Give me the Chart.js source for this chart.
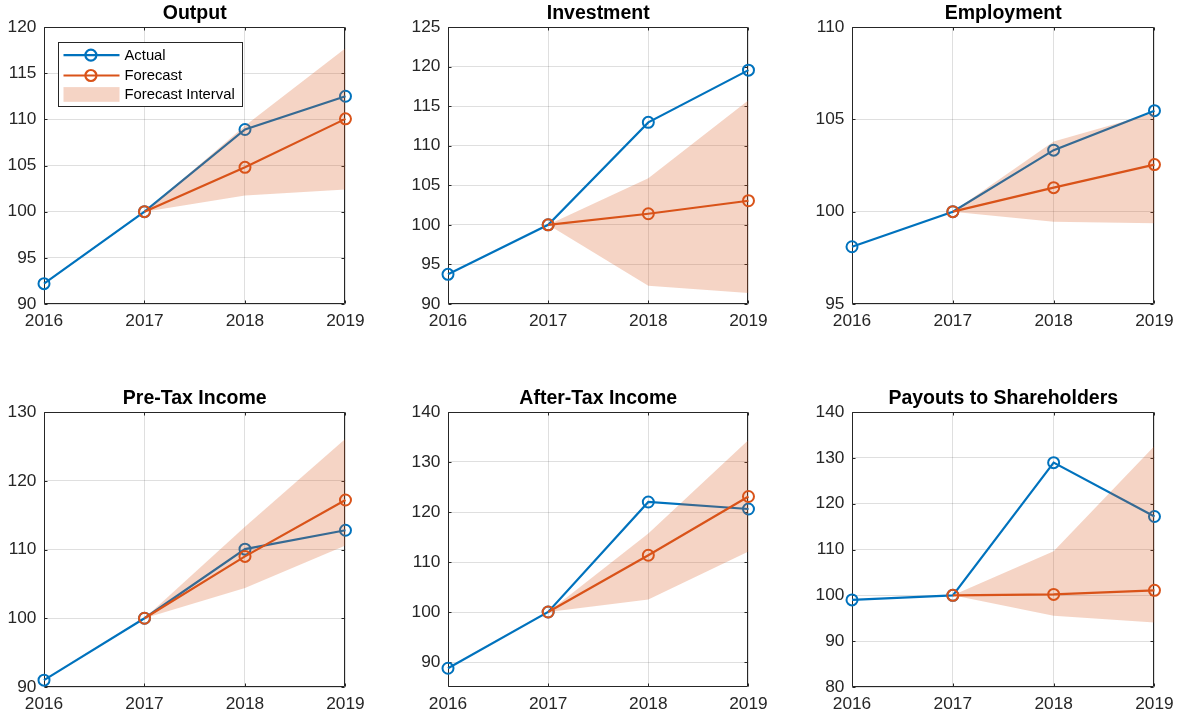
<!DOCTYPE html>
<html>
<head>
<meta charset="utf-8">
<script src="https://cdn.jsdelivr.net/npm/chart.js@4"></script>
<style>
  body { margin: 0; background: #fff; }
  #fig { position: relative; width: 1180px; height: 719px; }
  #fig canvas { position: absolute; }
</style>
</head>
<body>
<div id="fig"></div>
<script>
const years = ['2016', '2017', '2018', '2019'];

const outputActual   = [92.2, 100, 108.9, 112.5];
const outputForecast = [null, 100, 104.8, 110.05];
const outputLow      = [null, 100, 101.75, 102.4];
const outputHigh     = [null, 100, 109.3, 117.7];
const outputTicks    = [90, 95, 100, 105, 110, 115, 120];

const investActual   = [93.75, 100, 112.95, 119.55];
const investForecast = [null, 100, 101.4, 103.05];
const investLow      = [null, 100, 92.3, 91.4];
const investHigh     = [null, 100, 105.9, 115.75];
const investTicks    = [90, 95, 100, 105, 110, 115, 120, 125];

const employActual   = [98.1, 100, 103.33, 105.47];
const employForecast = [null, 100, 101.3, 102.55];
const employLow      = [null, 100, 99.45, 99.37];
const employHigh     = [null, 100, 103.8, 105.35];
const employTicks    = [95, 100, 105, 110];

const preTaxActual   = [91.0, 100, 110.05, 112.8];
const preTaxForecast = [null, 100, 109.0, 117.2];
const preTaxLow      = [null, 100, 104.4, 110.6];
const preTaxHigh     = [null, 100, 113.3, 126.1];
const preTaxTicks    = [90, 100, 110, 120, 130];

const afterTaxActual   = [88.75, 100, 122.0, 120.6];
const afterTaxForecast = [null, 100, 111.35, 123.1];
const afterTaxLow      = [null, 100, 102.5, 112.1];
const afterTaxHigh     = [null, 100, 115.7, 134.4];
const afterTaxTicks    = [90, 100, 110, 120, 130, 140];

const payoutActual   = [99.0, 100, 128.95, 117.2];
const payoutForecast = [null, 100, 100.2, 101.1];
const payoutLow      = [null, 100, 95.55, 94.1];
const payoutHigh     = [null, 100, 109.6, 132.6];
const payoutTicks    = [80, 90, 100, 110, 120, 130, 140];

const panels = [
  { title: 'Output', actual: outputActual, forecast: outputForecast, low: outputLow, high: outputHigh, ticks: outputTicks, min: 90, max: 120, legend: true },
  { title: 'Investment', actual: investActual, forecast: investForecast, low: investLow, high: investHigh, ticks: investTicks, min: 90, max: 125 },
  { title: 'Employment', actual: employActual, forecast: employForecast, low: employLow, high: employHigh, ticks: employTicks, min: 95, max: 110 },
  { title: 'Pre-Tax Income', actual: preTaxActual, forecast: preTaxForecast, low: preTaxLow, high: preTaxHigh, ticks: preTaxTicks, min: 90, max: 130 },
  { title: 'After-Tax Income', actual: afterTaxActual, forecast: afterTaxForecast, low: afterTaxLow, high: afterTaxHigh, ticks: afterTaxTicks, min: 85, max: 140 },
  { title: 'Payouts to Shareholders', actual: payoutActual, forecast: payoutForecast, low: payoutLow, high: payoutHigh, ticks: payoutTicks, min: 80, max: 140 }
];

// plot-area boxes: left, top, right, bottom
const boxes = [
  [44.3, 26.7, 347.3, 304], [448.3, 26.7, 750.7, 304], [851.7, 26.7, 1155.7, 304],
  [44.3, 412, 347.3, 687.3], [448.3, 412, 750.7, 687.3], [851.7, 412, 1155.7, 687.3]
];

const BLUE = '#0072BD';
const ORANGE = '#D95319';
const BAND = 'rgba(217, 83, 25, 0.25)';
const AXIS = '#262626';
const FONT = '"Liberation Sans", Arial, Helvetica, sans-serif';

const Y_AXIS_W = 44, X_AXIS_H = 30, TITLE_H = 26, PAD_R = 25;

// frame around the plot area plus small inward tick marks on all sides
const axesBox = {
  id: 'axesBox',
  beforeDatasetsDraw(chart) {
    const { ctx, chartArea: a, scales: { x, y } } = chart;
    const l = Math.round(a.left) + 0.5, r = Math.round(a.right) - 0.5;
    const t = Math.round(a.top) + 0.5, b = Math.round(a.bottom) - 0.5;
    ctx.save();
    ctx.strokeStyle = AXIS;
    ctx.lineWidth = 1;
    ctx.beginPath();
    x.ticks.forEach((tk, i) => {
      const px = Math.round(x.getPixelForTick(i)) + 0.5;
      ctx.moveTo(px, b); ctx.lineTo(px, b - 3);
      ctx.moveTo(px, t); ctx.lineTo(px, t + 3);
    });
    y.ticks.forEach(tk => {
      const py = Math.round(y.getPixelForValue(tk.value)) + 0.5;
      ctx.moveTo(l, py); ctx.lineTo(l + 3, py);
      ctx.moveTo(r, py); ctx.lineTo(r - 3, py);
    });
    ctx.rect(l, t, r - l, b - t);
    ctx.stroke();
    ctx.restore();
  }
};

// boxed legend in the top-left corner of the plot
const boxLegend = {
  id: 'boxLegend',
  afterDraw(chart, args, opts) {
    if (!opts.show) return;
    const { ctx, chartArea: a } = chart;
    const ds = chart.data.datasets;
    const x0 = Math.round(a.left + 14) + 0.5, y0 = Math.round(a.top + 15) + 0.5;
    const w = 184, h = 64;
    ctx.save();
    ctx.fillStyle = '#fff';
    ctx.fillRect(x0, y0, w, h);
    ctx.strokeStyle = AXIS;
    ctx.lineWidth = 1;
    ctx.strokeRect(x0, y0, w, h);

    const rows = [ds[0], ds[1], ds[3]];
    const rowY = [12.6, 33, 52];
    ctx.font = '14.8px ' + FONT;
    ctx.textBaseline = 'middle';
    rows.forEach((d, i) => {
      const cy = y0 + rowY[i];
      if (i < 2) {
        ctx.strokeStyle = d.borderColor;
        ctx.lineWidth = 2.2;
        ctx.beginPath();
        ctx.moveTo(x0 + 5, cy); ctx.lineTo(x0 + 61, cy);
        ctx.stroke();
        ctx.beginPath();
        ctx.arc(x0 + 32.4, cy, 5.5, 0, Math.PI * 2);
        ctx.stroke();
      } else {
        ctx.fillStyle = d.backgroundColor;
        ctx.fillRect(x0 + 5, cy - 7.4, 56, 14.7);
      }
      ctx.fillStyle = '#000';
      ctx.fillText(d.label, x0 + 66, cy + 0.5);
    });
    ctx.restore();
  }
};

const fig = document.getElementById('fig');

panels.forEach((p, i) => {
  const [L, T, R, B] = boxes[i];
  const canvas = document.createElement('canvas');
  const cw = Math.round(R - L + Y_AXIS_W + PAD_R);
  const ch = Math.round(B - T + TITLE_H + X_AXIS_H);
  canvas.width = cw;
  canvas.height = ch;
  canvas.style.left = Math.round(L - Y_AXIS_W) + 'px';
  canvas.style.top = Math.round(T - TITLE_H) + 'px';
  fig.appendChild(canvas);

  const lineStyle = color => ({
    borderColor: color,
    borderWidth: 2.2,
    pointRadius: 5.5,
    pointBorderWidth: 2,
    pointBackgroundColor: 'rgba(0,0,0,0)',
    pointBorderColor: color,
    fill: false,
    clip: false,
    tension: 0
  });

  new Chart(canvas, {
    type: 'line',
    data: {
      labels: years,
      datasets: [
        { label: 'Actual', data: p.actual, order: 3, ...lineStyle(BLUE) },
        { label: 'Forecast', data: p.forecast, order: 1, ...lineStyle(ORANGE) },
        { label: 'lower', data: p.low, order: 2, borderWidth: 0, pointRadius: 0, fill: false, borderColor: 'rgba(0,0,0,0)' },
        { label: 'Forecast Interval', data: p.high, order: 2, borderWidth: 0, pointRadius: 0,
          borderColor: 'rgba(0,0,0,0)', backgroundColor: BAND, fill: '-1' }
      ]
    },
    options: {
      responsive: false,
      animation: false,
      devicePixelRatio: 1,
      layout: { padding: { left: 0, right: PAD_R, top: 0, bottom: 0 } },
      plugins: {
        legend: { display: false },
        tooltip: { enabled: false },
        title: {
          display: true,
          text: p.title,
          fullSize: false,
          color: '#000',
          font: { family: FONT, size: 19.5, weight: 'bold', lineHeight: 1.2 },
          padding: { top: 0.9, bottom: 1.7 }
        },
        boxLegend: { show: !!p.legend }
      },
      scales: {
        x: {
          offset: false,
          grid: { color: 'rgba(38,38,38,0.15)', drawTicks: false, tickLength: 0 },
          border: { display: false },
          ticks: { color: AXIS, padding: 7.3, maxRotation: 0, font: { family: FONT, size: 17.3, lineHeight: 1.2 } },
          afterFit: s => { s.height = X_AXIS_H; }
        },
        y: {
          min: p.min,
          max: p.max,
          grid: { color: 'rgba(38,38,38,0.15)', drawTicks: false, tickLength: 0 },
          border: { display: false },
          ticks: { color: AXIS, padding: 7.6, font: { family: FONT, size: 17.3, lineHeight: 1.2 } },
          afterBuildTicks: s => { s.ticks = p.ticks.map(v => ({ value: v })); },
          afterFit: s => { s.width = Y_AXIS_W; }
        }
      }
    },
    plugins: [axesBox, boxLegend]
  });
});
</script>
</body>
</html>
